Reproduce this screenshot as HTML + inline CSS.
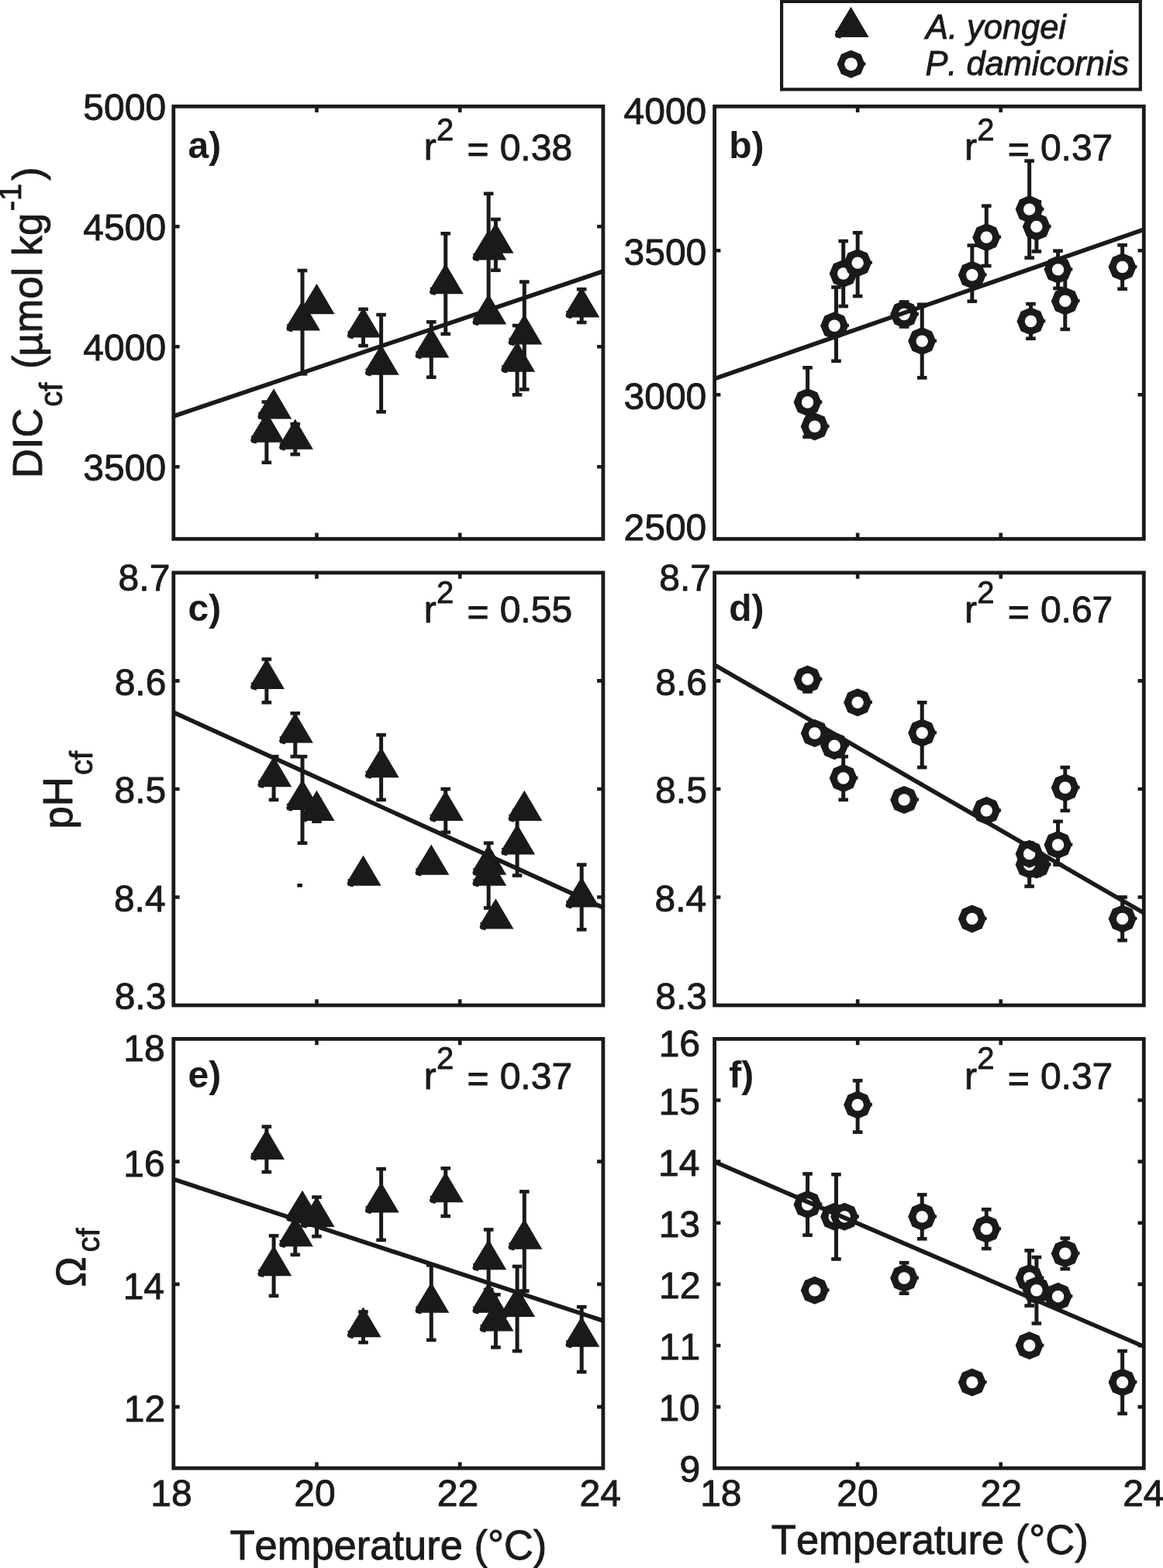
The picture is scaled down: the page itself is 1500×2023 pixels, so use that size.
<!DOCTYPE html>
<html lang="en"><head><meta charset="utf-8"><title>Figure</title><style>html,body{margin:0;padding:0;background:#fff}svg{display:block}text{stroke:#1a1a1a;stroke-width:0.9px;stroke-linejoin:round}</style></head><body>
<svg width="1500" height="2023" viewBox="0 0 1500 2023" font-family="'Liberation Sans', sans-serif" fill="#1a1a1a" style="font-kerning:none">
<rect width="1500" height="2023" fill="#fff"/>
<path d="M1008.1 0V115.3H1470.8V0" fill="none" stroke="#1a1a1a" stroke-width="4.2"/>
<rect x="1006" y="0" width="466.9" height="4" fill="#1a1a1a"/>
<polygon points="1097.5,8.7 1120.6,47.9 1085,47.9 1083.9,49.7 1080,48.6 1077.7,47.9 1076.7,45.1 1077.9,41.8 1076.9,40 1078.9,39.4" fill="#1a1a1a"/>
<polygon points="1097.6,64.8 1110.33,70.07 1115.6,82.8 1110.33,95.53 1097.6,100.8 1084.87,95.53 1079.6,82.8 1084.87,70.07" fill="#1a1a1a"/>
<rect x="1113.8" y="80.4" width="2.6" height="4" fill="#1a1a1a"/>
<circle cx="1097.6" cy="82.8" r="8.4" fill="#fff"/>
<path d="M343.86 518.6V596.72" stroke="#1a1a1a" stroke-width="5" fill="none"/>
<rect x="337.56" y="516.3" width="12.6" height="4.6" fill="#1a1a1a"/>
<rect x="337.56" y="594.42" width="12.6" height="4.6" fill="#1a1a1a"/>
<path d="M353.09 521.08V533.48" stroke="#1a1a1a" stroke-width="5" fill="none"/>
<rect x="346.79" y="518.78" width="12.6" height="4.6" fill="#1a1a1a"/>
<rect x="346.79" y="531.18" width="12.6" height="4.6" fill="#1a1a1a"/>
<path d="M380.79 547.12V586.18" stroke="#1a1a1a" stroke-width="5" fill="none"/>
<rect x="374.49" y="544.82" width="12.6" height="4.6" fill="#1a1a1a"/>
<rect x="374.49" y="583.88" width="12.6" height="4.6" fill="#1a1a1a"/>
<path d="M390.03 349.03V482.33" stroke="#1a1a1a" stroke-width="5" fill="none"/>
<rect x="383.73" y="346.73" width="12.6" height="4.6" fill="#1a1a1a"/>
<rect x="383.73" y="480.03" width="12.6" height="4.6" fill="#1a1a1a"/>
<path d="M408.5 387.47V396.77" stroke="#1a1a1a" stroke-width="5" fill="none"/>
<rect x="402.2" y="385.17" width="12.6" height="4.6" fill="#1a1a1a"/>
<rect x="402.2" y="394.47" width="12.6" height="4.6" fill="#1a1a1a"/>
<path d="M468.53 398.94V446.06" stroke="#1a1a1a" stroke-width="5" fill="none"/>
<rect x="462.23" y="396.64" width="12.6" height="4.6" fill="#1a1a1a"/>
<rect x="462.23" y="443.76" width="12.6" height="4.6" fill="#1a1a1a"/>
<path d="M491.61 406.07V531.31" stroke="#1a1a1a" stroke-width="5" fill="none"/>
<rect x="485.31" y="403.77" width="12.6" height="4.6" fill="#1a1a1a"/>
<rect x="485.31" y="529.01" width="12.6" height="4.6" fill="#1a1a1a"/>
<path d="M556.26 415.37V486.67" stroke="#1a1a1a" stroke-width="5" fill="none"/>
<rect x="549.96" y="413.07" width="12.6" height="4.6" fill="#1a1a1a"/>
<rect x="549.96" y="484.37" width="12.6" height="4.6" fill="#1a1a1a"/>
<path d="M574.73 301.29V430.87" stroke="#1a1a1a" stroke-width="5" fill="none"/>
<rect x="568.43" y="298.99" width="12.6" height="4.6" fill="#1a1a1a"/>
<rect x="568.43" y="428.57" width="12.6" height="4.6" fill="#1a1a1a"/>
<path d="M630.14 249.83V394.91" stroke="#1a1a1a" stroke-width="5" fill="none"/>
<rect x="623.84" y="247.53" width="12.6" height="4.6" fill="#1a1a1a"/>
<rect x="623.84" y="392.61" width="12.6" height="4.6" fill="#1a1a1a"/>
<path d="M639.38 283V348.72" stroke="#1a1a1a" stroke-width="5" fill="none"/>
<rect x="633.08" y="280.7" width="12.6" height="4.6" fill="#1a1a1a"/>
<rect x="633.08" y="346.42" width="12.6" height="4.6" fill="#1a1a1a"/>
<path d="M630.14 399.25V411.65" stroke="#1a1a1a" stroke-width="5" fill="none"/>
<rect x="623.84" y="396.95" width="12.6" height="4.6" fill="#1a1a1a"/>
<rect x="623.84" y="409.35" width="12.6" height="4.6" fill="#1a1a1a"/>
<path d="M667.08 420.02V509.3" stroke="#1a1a1a" stroke-width="5" fill="none"/>
<rect x="660.78" y="417.72" width="12.6" height="4.6" fill="#1a1a1a"/>
<rect x="660.78" y="507" width="12.6" height="4.6" fill="#1a1a1a"/>
<path d="M676.31 363.6V502.48" stroke="#1a1a1a" stroke-width="5" fill="none"/>
<rect x="670.01" y="361.3" width="12.6" height="4.6" fill="#1a1a1a"/>
<rect x="670.01" y="500.18" width="12.6" height="4.6" fill="#1a1a1a"/>
<path d="M750.19 373.21V415.99" stroke="#1a1a1a" stroke-width="5" fill="none"/>
<rect x="743.89" y="370.91" width="12.6" height="4.6" fill="#1a1a1a"/>
<rect x="743.89" y="413.69" width="12.6" height="4.6" fill="#1a1a1a"/>
<polygon points="343.86,531.56 366.96,570.76 331.36,570.76 330.26,572.56 326.36,571.46 324.06,570.76 323.06,567.96 324.26,564.66 323.26,562.86 325.26,562.26" fill="#1a1a1a"/>
<polygon points="353.09,501.18 376.19,540.38 340.59,540.38 339.49,542.18 335.59,541.08 333.29,540.38 332.29,537.58 333.49,534.28 332.49,532.48 334.49,531.88" fill="#1a1a1a"/>
<polygon points="380.79,540.55 403.89,579.75 368.29,579.75 367.19,581.55 363.29,580.45 360.99,579.75 359.99,576.95 361.19,573.65 360.19,571.85 362.19,571.25" fill="#1a1a1a"/>
<polygon points="390.03,387.38 413.13,426.58 377.53,426.58 376.43,428.38 372.53,427.28 370.23,426.58 369.23,423.78 370.43,420.48 369.43,418.68 371.43,418.08" fill="#1a1a1a"/>
<polygon points="408.5,366.02 431.6,405.22 396,405.22 394.9,407.02 391,405.92 388.7,405.22 387.7,402.42 388.9,399.12 387.9,397.32 389.9,396.72" fill="#1a1a1a"/>
<polygon points="468.53,396.4 491.63,435.6 456.03,435.6 454.93,437.4 451.03,436.3 448.73,435.6 447.73,432.8 448.93,429.5 447.93,427.7 449.93,427.1" fill="#1a1a1a"/>
<polygon points="491.61,444.59 514.71,483.79 479.11,483.79 478.01,485.59 474.11,484.49 471.81,483.79 470.81,480.99 472.01,477.69 471.01,475.89 473.01,475.29" fill="#1a1a1a"/>
<polygon points="556.26,422.42 579.36,461.62 543.76,461.62 542.66,463.42 538.76,462.32 536.46,461.62 535.46,458.82 536.66,455.52 535.66,453.72 537.66,453.12" fill="#1a1a1a"/>
<polygon points="574.73,339.98 597.83,379.18 562.23,379.18 561.13,380.98 557.23,379.88 554.93,379.18 553.93,376.38 555.13,373.08 554.13,371.28 556.13,370.68" fill="#1a1a1a"/>
<polygon points="630.14,296.27 653.24,335.47 617.64,335.47 616.54,337.27 612.64,336.17 610.34,335.47 609.34,332.67 610.54,329.37 609.54,327.57 611.54,326.97" fill="#1a1a1a"/>
<polygon points="639.38,287.46 662.48,326.66 626.88,326.66 625.77,328.46 621.88,327.36 619.58,326.66 618.58,323.86 619.77,320.56 618.77,318.76 620.77,318.16" fill="#1a1a1a"/>
<polygon points="630.14,379.35 653.24,418.55 617.64,418.55 616.54,420.35 612.64,419.25 610.34,418.55 609.34,415.75 610.54,412.45 609.54,410.65 611.54,410.05" fill="#1a1a1a"/>
<polygon points="667.08,440.56 690.18,479.76 654.58,479.76 653.48,481.56 649.58,480.46 647.28,479.76 646.28,476.96 647.48,473.66 646.48,471.86 648.48,471.26" fill="#1a1a1a"/>
<polygon points="676.31,405.24 699.41,444.44 663.81,444.44 662.71,446.24 658.81,445.14 656.51,444.44 655.51,441.64 656.71,438.34 655.71,436.54 657.71,435.94" fill="#1a1a1a"/>
<polygon points="750.19,370.3 773.29,409.5 737.69,409.5 736.59,411.3 732.69,410.2 730.39,409.5 729.39,406.7 730.59,403.4 729.59,401.6 731.59,401" fill="#1a1a1a"/>
<path d="M223.8 537L777.9 350" stroke="#1a1a1a" stroke-width="5.6" fill="none"/>
<rect x="223.8" y="137.3" width="554.1" height="558" fill="none" stroke="#1a1a1a" stroke-width="4.8"/>
<path d="M408.5 137.3v7.8M408.5 695.3v-7.8M593.2 137.3v7.8M593.2 695.3v-7.8M223.8 602.3h7.8M777.9 602.3h-7.8M223.8 447.3h7.8M777.9 447.3h-7.8M223.8 292.3h7.8M777.9 292.3h-7.8" stroke="#1a1a1a" stroke-width="4.6" fill="none"/>
<path d="M1041.57 474.33V563.61" stroke="#1a1a1a" stroke-width="5" fill="none"/>
<rect x="1035.27" y="472.03" width="12.6" height="4.6" fill="#1a1a1a"/>
<rect x="1035.27" y="561.31" width="12.6" height="4.6" fill="#1a1a1a"/>
<path d="M1050.8 540.92V559.52" stroke="#1a1a1a" stroke-width="5" fill="none"/>
<rect x="1044.5" y="538.62" width="12.6" height="4.6" fill="#1a1a1a"/>
<rect x="1044.5" y="557.22" width="12.6" height="4.6" fill="#1a1a1a"/>
<path d="M1078.48 370.54V465.78" stroke="#1a1a1a" stroke-width="5" fill="none"/>
<rect x="1072.18" y="368.24" width="12.6" height="4.6" fill="#1a1a1a"/>
<rect x="1072.18" y="463.48" width="12.6" height="4.6" fill="#1a1a1a"/>
<path d="M1087.71 311.02V395.1" stroke="#1a1a1a" stroke-width="5" fill="none"/>
<rect x="1081.41" y="308.72" width="12.6" height="4.6" fill="#1a1a1a"/>
<rect x="1081.41" y="392.8" width="12.6" height="4.6" fill="#1a1a1a"/>
<path d="M1106.17 300.24V382.08" stroke="#1a1a1a" stroke-width="5" fill="none"/>
<rect x="1099.87" y="297.94" width="12.6" height="4.6" fill="#1a1a1a"/>
<rect x="1099.87" y="379.78" width="12.6" height="4.6" fill="#1a1a1a"/>
<path d="M1166.15 389.52V421.51" stroke="#1a1a1a" stroke-width="5" fill="none"/>
<rect x="1159.85" y="387.22" width="12.6" height="4.6" fill="#1a1a1a"/>
<rect x="1159.85" y="419.21" width="12.6" height="4.6" fill="#1a1a1a"/>
<path d="M1189.22 392.86V487.35" stroke="#1a1a1a" stroke-width="5" fill="none"/>
<rect x="1182.92" y="390.56" width="12.6" height="4.6" fill="#1a1a1a"/>
<rect x="1182.92" y="485.05" width="12.6" height="4.6" fill="#1a1a1a"/>
<path d="M1253.82 316.6V388.77" stroke="#1a1a1a" stroke-width="5" fill="none"/>
<rect x="1247.52" y="314.3" width="12.6" height="4.6" fill="#1a1a1a"/>
<rect x="1247.52" y="386.47" width="12.6" height="4.6" fill="#1a1a1a"/>
<path d="M1272.28 265.64V343.02" stroke="#1a1a1a" stroke-width="5" fill="none"/>
<rect x="1265.98" y="263.34" width="12.6" height="4.6" fill="#1a1a1a"/>
<rect x="1265.98" y="340.72" width="12.6" height="4.6" fill="#1a1a1a"/>
<path d="M1327.65 207.61V332.6" stroke="#1a1a1a" stroke-width="5" fill="none"/>
<rect x="1321.35" y="205.31" width="12.6" height="4.6" fill="#1a1a1a"/>
<rect x="1321.35" y="330.3" width="12.6" height="4.6" fill="#1a1a1a"/>
<path d="M1336.88 260.43V324.42" stroke="#1a1a1a" stroke-width="5" fill="none"/>
<rect x="1330.58" y="258.13" width="12.6" height="4.6" fill="#1a1a1a"/>
<rect x="1330.58" y="322.12" width="12.6" height="4.6" fill="#1a1a1a"/>
<path d="M1329.49 392.12V436.76" stroke="#1a1a1a" stroke-width="5" fill="none"/>
<rect x="1323.19" y="389.82" width="12.6" height="4.6" fill="#1a1a1a"/>
<rect x="1323.19" y="434.46" width="12.6" height="4.6" fill="#1a1a1a"/>
<path d="M1364.56 323.67V372.03" stroke="#1a1a1a" stroke-width="5" fill="none"/>
<rect x="1358.26" y="321.37" width="12.6" height="4.6" fill="#1a1a1a"/>
<rect x="1358.26" y="369.73" width="12.6" height="4.6" fill="#1a1a1a"/>
<path d="M1373.79 351.94V424.86" stroke="#1a1a1a" stroke-width="5" fill="none"/>
<rect x="1367.49" y="349.64" width="12.6" height="4.6" fill="#1a1a1a"/>
<rect x="1367.49" y="422.56" width="12.6" height="4.6" fill="#1a1a1a"/>
<path d="M1447.61 316.23V372.78" stroke="#1a1a1a" stroke-width="5" fill="none"/>
<rect x="1441.31" y="313.93" width="12.6" height="4.6" fill="#1a1a1a"/>
<rect x="1441.31" y="370.48" width="12.6" height="4.6" fill="#1a1a1a"/>
<polygon points="1041.57,500.97 1054.3,506.24 1059.57,518.97 1054.3,531.7 1041.57,536.97 1028.84,531.7 1023.57,518.97 1028.84,506.24" fill="#1a1a1a"/>
<rect x="1057.77" y="516.57" width="2.6" height="4" fill="#1a1a1a"/>
<circle cx="1041.57" cy="518.97" r="7.7" fill="#fff"/>
<polygon points="1050.8,532.22 1063.52,537.49 1068.8,550.22 1063.52,562.95 1050.8,568.22 1038.07,562.95 1032.8,550.22 1038.07,537.49" fill="#1a1a1a"/>
<rect x="1067" y="547.82" width="2.6" height="4" fill="#1a1a1a"/>
<circle cx="1050.8" cy="550.22" r="7.7" fill="#fff"/>
<polygon points="1076.18,402.26 1088.91,407.53 1094.18,420.26 1088.91,432.99 1076.18,438.26 1063.45,432.99 1058.18,420.26 1063.45,407.53" fill="#1a1a1a"/>
<rect x="1092.38" y="417.86" width="2.6" height="4" fill="#1a1a1a"/>
<circle cx="1076.18" cy="420.26" r="7.7" fill="#fff"/>
<polygon points="1087.71,335.06 1100.44,340.33 1105.71,353.06 1100.44,365.79 1087.71,371.06 1074.98,365.79 1069.71,353.06 1074.98,340.33" fill="#1a1a1a"/>
<rect x="1103.91" y="350.66" width="2.6" height="4" fill="#1a1a1a"/>
<circle cx="1087.71" cy="353.06" r="7.7" fill="#fff"/>
<polygon points="1106.17,321.16 1118.89,326.43 1124.17,339.16 1118.89,351.88 1106.17,357.16 1093.44,351.88 1088.17,339.16 1093.44,326.43" fill="#1a1a1a"/>
<rect x="1122.37" y="336.76" width="2.6" height="4" fill="#1a1a1a"/>
<circle cx="1106.17" cy="339.16" r="7.7" fill="#fff"/>
<polygon points="1166.15,387.51 1178.88,392.78 1184.15,405.51 1178.88,418.24 1166.15,423.51 1153.42,418.24 1148.15,405.51 1153.42,392.78" fill="#1a1a1a"/>
<rect x="1182.35" y="403.11" width="2.6" height="4" fill="#1a1a1a"/>
<circle cx="1166.15" cy="405.51" r="7.7" fill="#fff"/>
<polygon points="1189.22,422.11 1201.95,427.38 1207.22,440.11 1201.95,452.84 1189.22,458.11 1176.49,452.84 1171.22,440.11 1176.49,427.38" fill="#1a1a1a"/>
<rect x="1205.42" y="437.71" width="2.6" height="4" fill="#1a1a1a"/>
<circle cx="1189.22" cy="440.11" r="7.7" fill="#fff"/>
<polygon points="1253.82,336.69 1266.55,341.96 1271.82,354.69 1266.55,367.42 1253.82,372.69 1241.09,367.42 1235.82,354.69 1241.09,341.96" fill="#1a1a1a"/>
<rect x="1270.02" y="352.29" width="2.6" height="4" fill="#1a1a1a"/>
<circle cx="1253.82" cy="354.69" r="7.7" fill="#fff"/>
<polygon points="1272.28,288.13 1285,293.4 1290.28,306.13 1285,318.86 1272.28,324.13 1259.55,318.86 1254.28,306.13 1259.55,293.4" fill="#1a1a1a"/>
<rect x="1288.48" y="303.73" width="2.6" height="4" fill="#1a1a1a"/>
<circle cx="1272.28" cy="306.13" r="7.7" fill="#fff"/>
<polygon points="1327.65,252.1 1340.37,257.38 1345.65,270.1 1340.37,282.83 1327.65,288.1 1314.92,282.83 1309.65,270.1 1314.92,257.38" fill="#1a1a1a"/>
<rect x="1343.85" y="267.7" width="2.6" height="4" fill="#1a1a1a"/>
<circle cx="1327.65" cy="270.1" r="7.7" fill="#fff"/>
<polygon points="1336.88,274.42 1349.6,279.7 1354.88,292.42 1349.6,305.15 1336.88,310.42 1324.15,305.15 1318.88,292.42 1324.15,279.7" fill="#1a1a1a"/>
<rect x="1353.08" y="290.02" width="2.6" height="4" fill="#1a1a1a"/>
<circle cx="1336.88" cy="292.42" r="7.7" fill="#fff"/>
<polygon points="1329.49,396.44 1342.22,401.71 1347.49,414.44 1342.22,427.17 1329.49,432.44 1316.76,427.17 1311.49,414.44 1316.76,401.71" fill="#1a1a1a"/>
<rect x="1345.69" y="412.04" width="2.6" height="4" fill="#1a1a1a"/>
<circle cx="1329.49" cy="414.44" r="7.7" fill="#fff"/>
<polygon points="1364.56,329.85 1377.29,335.12 1382.56,347.85 1377.29,360.58 1364.56,365.85 1351.83,360.58 1346.56,347.85 1351.83,335.12" fill="#1a1a1a"/>
<rect x="1380.76" y="345.45" width="2.6" height="4" fill="#1a1a1a"/>
<circle cx="1364.56" cy="347.85" r="7.7" fill="#fff"/>
<polygon points="1373.79,370.4 1386.52,375.67 1391.79,388.4 1386.52,401.13 1373.79,406.4 1361.06,401.13 1355.79,388.4 1361.06,375.67" fill="#1a1a1a"/>
<rect x="1389.99" y="386" width="2.6" height="4" fill="#1a1a1a"/>
<circle cx="1373.79" cy="388.4" r="7.7" fill="#fff"/>
<polygon points="1447.61,326.5 1460.34,331.78 1465.61,344.5 1460.34,357.23 1447.61,362.5 1434.89,357.23 1429.61,344.5 1434.89,331.78" fill="#1a1a1a"/>
<rect x="1463.81" y="342.1" width="2.6" height="4" fill="#1a1a1a"/>
<circle cx="1447.61" cy="344.5" r="7.7" fill="#fff"/>
<path d="M921.6 488.6L1475.3 296.2" stroke="#1a1a1a" stroke-width="5.6" fill="none"/>
<rect x="921.6" y="137.3" width="553.7" height="558" fill="none" stroke="#1a1a1a" stroke-width="4.8"/>
<path d="M1106.17 137.3v7.8M1106.17 695.3v-7.8M1290.73 137.3v7.8M1290.73 695.3v-7.8M921.6 509.3h7.8M1475.3 509.3h-7.8M921.6 323.3h7.8M1475.3 323.3h-7.8" stroke="#1a1a1a" stroke-width="4.6" fill="none"/>
<path d="M343.86 850.52V906.33" stroke="#1a1a1a" stroke-width="5" fill="none"/>
<rect x="337.56" y="848.22" width="12.6" height="4.6" fill="#1a1a1a"/>
<rect x="337.56" y="904.03" width="12.6" height="4.6" fill="#1a1a1a"/>
<path d="M353.09 976.09V1031.9" stroke="#1a1a1a" stroke-width="5" fill="none"/>
<rect x="346.79" y="973.79" width="12.6" height="4.6" fill="#1a1a1a"/>
<rect x="346.79" y="1029.6" width="12.6" height="4.6" fill="#1a1a1a"/>
<path d="M380.79 920.28V976.09" stroke="#1a1a1a" stroke-width="5" fill="none"/>
<rect x="374.49" y="917.98" width="12.6" height="4.6" fill="#1a1a1a"/>
<rect x="374.49" y="973.79" width="12.6" height="4.6" fill="#1a1a1a"/>
<path d="M390.03 976.09V1087.71" stroke="#1a1a1a" stroke-width="5" fill="none"/>
<rect x="383.73" y="973.79" width="12.6" height="4.6" fill="#1a1a1a"/>
<rect x="383.73" y="1085.41" width="12.6" height="4.6" fill="#1a1a1a"/>
<path d="M408.5 1031.9V1059.81" stroke="#1a1a1a" stroke-width="5" fill="none"/>
<rect x="402.2" y="1029.6" width="12.6" height="4.6" fill="#1a1a1a"/>
<rect x="402.2" y="1057.51" width="12.6" height="4.6" fill="#1a1a1a"/>
<path d="M491.61 948.19V1031.9" stroke="#1a1a1a" stroke-width="5" fill="none"/>
<rect x="485.31" y="945.89" width="12.6" height="4.6" fill="#1a1a1a"/>
<rect x="485.31" y="1029.6" width="12.6" height="4.6" fill="#1a1a1a"/>
<path d="M574.73 1017.95V1073.76" stroke="#1a1a1a" stroke-width="5" fill="none"/>
<rect x="568.43" y="1015.65" width="12.6" height="4.6" fill="#1a1a1a"/>
<rect x="568.43" y="1071.46" width="12.6" height="4.6" fill="#1a1a1a"/>
<path d="M630.14 1087.71V1171.43" stroke="#1a1a1a" stroke-width="5" fill="none"/>
<rect x="623.84" y="1085.41" width="12.6" height="4.6" fill="#1a1a1a"/>
<rect x="623.84" y="1169.13" width="12.6" height="4.6" fill="#1a1a1a"/>
<path d="M630.14 1101.67V1129.57" stroke="#1a1a1a" stroke-width="5" fill="none"/>
<rect x="623.84" y="1099.37" width="12.6" height="4.6" fill="#1a1a1a"/>
<rect x="623.84" y="1127.27" width="12.6" height="4.6" fill="#1a1a1a"/>
<path d="M639.38 1178.4V1192.36" stroke="#1a1a1a" stroke-width="5" fill="none"/>
<rect x="633.08" y="1176.1" width="12.6" height="4.6" fill="#1a1a1a"/>
<rect x="633.08" y="1190.06" width="12.6" height="4.6" fill="#1a1a1a"/>
<path d="M667.08 1045.86V1129.57" stroke="#1a1a1a" stroke-width="5" fill="none"/>
<rect x="660.78" y="1043.56" width="12.6" height="4.6" fill="#1a1a1a"/>
<rect x="660.78" y="1127.27" width="12.6" height="4.6" fill="#1a1a1a"/>
<path d="M676.31 1038.88V1052.83" stroke="#1a1a1a" stroke-width="5" fill="none"/>
<rect x="670.01" y="1036.58" width="12.6" height="4.6" fill="#1a1a1a"/>
<rect x="670.01" y="1050.53" width="12.6" height="4.6" fill="#1a1a1a"/>
<path d="M750.19 1115.62V1199.33" stroke="#1a1a1a" stroke-width="5" fill="none"/>
<rect x="743.89" y="1113.32" width="12.6" height="4.6" fill="#1a1a1a"/>
<rect x="743.89" y="1197.03" width="12.6" height="4.6" fill="#1a1a1a"/>
<polygon points="343.86,849.72 366.96,888.92 331.36,888.92 330.26,890.72 326.36,889.62 324.06,888.92 323.06,886.12 324.26,882.82 323.26,881.02 325.26,880.42" fill="#1a1a1a"/>
<polygon points="353.09,976 376.19,1015.2 340.59,1015.2 339.49,1017 335.59,1015.9 333.29,1015.2 332.29,1012.4 333.49,1009.1 332.49,1007.3 334.49,1006.7" fill="#1a1a1a"/>
<polygon points="380.79,919.39 403.89,958.59 368.29,958.59 367.19,960.39 363.29,959.29 360.99,958.59 359.99,955.79 361.19,952.49 360.19,950.69 362.19,950.09" fill="#1a1a1a"/>
<polygon points="390.03,1005.8 413.13,1045 377.53,1045 376.43,1046.8 372.53,1045.7 370.23,1045 369.23,1042.2 370.43,1038.9 369.43,1037.1 371.43,1036.5" fill="#1a1a1a"/>
<polygon points="408.5,1019.75 431.6,1058.95 396,1058.95 394.9,1060.75 391,1059.65 388.7,1058.95 387.7,1056.15 388.9,1052.85 387.9,1051.05 389.9,1050.45" fill="#1a1a1a"/>
<polygon points="468.53,1103.47 491.63,1142.67 456.03,1142.67 454.93,1144.47 451.03,1143.37 448.73,1142.67 447.73,1139.87 448.93,1136.57 447.93,1134.77 449.93,1134.17" fill="#1a1a1a"/>
<polygon points="491.61,963.95 514.71,1003.15 479.11,1003.15 478.01,1004.95 474.11,1003.85 471.81,1003.15 470.81,1000.35 472.01,997.05 471.01,995.25 473.01,994.65" fill="#1a1a1a"/>
<polygon points="556.26,1089.52 579.36,1128.72 543.76,1128.72 542.66,1130.52 538.76,1129.42 536.46,1128.72 535.46,1125.92 536.66,1122.62 535.66,1120.82 537.66,1120.22" fill="#1a1a1a"/>
<polygon points="574.73,1019.75 597.83,1058.95 562.23,1058.95 561.13,1060.75 557.23,1059.65 554.93,1058.95 553.93,1056.15 555.13,1052.85 554.13,1051.05 556.13,1050.45" fill="#1a1a1a"/>
<polygon points="630.14,1103.47 653.24,1142.67 617.64,1142.67 616.54,1144.47 612.64,1143.37 610.34,1142.67 609.34,1139.87 610.54,1136.57 609.54,1134.77 611.54,1134.17" fill="#1a1a1a"/>
<polygon points="630.14,1089.52 653.24,1128.72 617.64,1128.72 616.54,1130.52 612.64,1129.42 610.34,1128.72 609.34,1125.92 610.54,1122.62 609.54,1120.82 611.54,1120.22" fill="#1a1a1a"/>
<polygon points="639.38,1159.28 662.48,1198.48 626.88,1198.48 625.77,1200.28 621.88,1199.18 619.58,1198.48 618.58,1195.68 619.77,1192.38 618.77,1190.58 620.77,1189.98" fill="#1a1a1a"/>
<polygon points="667.08,1063.31 690.18,1102.51 654.58,1102.51 653.48,1104.31 649.58,1103.21 647.28,1102.51 646.28,1099.71 647.48,1096.41 646.48,1094.61 648.48,1094.01" fill="#1a1a1a"/>
<polygon points="676.31,1019.75 699.41,1058.95 663.81,1058.95 662.71,1060.75 658.81,1059.65 656.51,1058.95 655.51,1056.15 656.71,1052.85 655.71,1051.05 657.71,1050.45" fill="#1a1a1a"/>
<polygon points="750.19,1131.38 773.29,1170.57 737.69,1170.57 736.59,1172.38 732.69,1171.27 730.39,1170.57 729.39,1167.77 730.59,1164.47 729.59,1162.67 731.59,1162.07" fill="#1a1a1a"/>
<path d="M223.8 919.1L777.9 1171" stroke="#1a1a1a" stroke-width="5.6" fill="none"/>
<rect x="223.8" y="738.9" width="554.1" height="558.1" fill="none" stroke="#1a1a1a" stroke-width="4.8"/>
<path d="M408.5 738.9v7.8M408.5 1297v-7.8M593.2 738.9v7.8M593.2 1297v-7.8M223.8 1157.47h7.8M777.9 1157.47h-7.8M223.8 1017.95h7.8M777.9 1017.95h-7.8M223.8 878.42h7.8M777.9 878.42h-7.8" stroke="#1a1a1a" stroke-width="4.6" fill="none"/>
<path d="M1041.57 864.47V892.38" stroke="#1a1a1a" stroke-width="5" fill="none"/>
<rect x="1035.27" y="862.17" width="12.6" height="4.6" fill="#1a1a1a"/>
<rect x="1035.27" y="890.08" width="12.6" height="4.6" fill="#1a1a1a"/>
<path d="M1050.8 941.21V955.16" stroke="#1a1a1a" stroke-width="5" fill="none"/>
<rect x="1044.5" y="938.91" width="12.6" height="4.6" fill="#1a1a1a"/>
<rect x="1044.5" y="952.86" width="12.6" height="4.6" fill="#1a1a1a"/>
<path d="M1078.48 955.16V969.12" stroke="#1a1a1a" stroke-width="5" fill="none"/>
<rect x="1072.18" y="952.86" width="12.6" height="4.6" fill="#1a1a1a"/>
<rect x="1072.18" y="966.82" width="12.6" height="4.6" fill="#1a1a1a"/>
<path d="M1087.71 976.09V1031.9" stroke="#1a1a1a" stroke-width="5" fill="none"/>
<rect x="1081.41" y="973.79" width="12.6" height="4.6" fill="#1a1a1a"/>
<rect x="1081.41" y="1029.6" width="12.6" height="4.6" fill="#1a1a1a"/>
<path d="M1106.17 899.35V913.31" stroke="#1a1a1a" stroke-width="5" fill="none"/>
<rect x="1099.87" y="897.05" width="12.6" height="4.6" fill="#1a1a1a"/>
<rect x="1099.87" y="911.01" width="12.6" height="4.6" fill="#1a1a1a"/>
<path d="M1166.15 1024.93V1038.88" stroke="#1a1a1a" stroke-width="5" fill="none"/>
<rect x="1159.85" y="1022.63" width="12.6" height="4.6" fill="#1a1a1a"/>
<rect x="1159.85" y="1036.58" width="12.6" height="4.6" fill="#1a1a1a"/>
<path d="M1189.22 906.33V990.04" stroke="#1a1a1a" stroke-width="5" fill="none"/>
<rect x="1182.92" y="904.03" width="12.6" height="4.6" fill="#1a1a1a"/>
<rect x="1182.92" y="987.74" width="12.6" height="4.6" fill="#1a1a1a"/>
<path d="M1253.82 1178.4V1192.36" stroke="#1a1a1a" stroke-width="5" fill="none"/>
<rect x="1247.52" y="1176.1" width="12.6" height="4.6" fill="#1a1a1a"/>
<rect x="1247.52" y="1190.06" width="12.6" height="4.6" fill="#1a1a1a"/>
<path d="M1272.28 1038.88V1052.83" stroke="#1a1a1a" stroke-width="5" fill="none"/>
<rect x="1265.98" y="1036.58" width="12.6" height="4.6" fill="#1a1a1a"/>
<rect x="1265.98" y="1050.53" width="12.6" height="4.6" fill="#1a1a1a"/>
<path d="M1336.88 1101.67V1129.57" stroke="#1a1a1a" stroke-width="5" fill="none"/>
<rect x="1330.58" y="1099.37" width="12.6" height="4.6" fill="#1a1a1a"/>
<rect x="1330.58" y="1127.27" width="12.6" height="4.6" fill="#1a1a1a"/>
<path d="M1327.65 1087.71V1143.52" stroke="#1a1a1a" stroke-width="5" fill="none"/>
<rect x="1321.35" y="1085.41" width="12.6" height="4.6" fill="#1a1a1a"/>
<rect x="1321.35" y="1141.22" width="12.6" height="4.6" fill="#1a1a1a"/>
<path d="M1327.65 1087.71V1115.62" stroke="#1a1a1a" stroke-width="5" fill="none"/>
<rect x="1321.35" y="1085.41" width="12.6" height="4.6" fill="#1a1a1a"/>
<rect x="1321.35" y="1113.32" width="12.6" height="4.6" fill="#1a1a1a"/>
<path d="M1364.56 1059.81V1115.62" stroke="#1a1a1a" stroke-width="5" fill="none"/>
<rect x="1358.26" y="1057.51" width="12.6" height="4.6" fill="#1a1a1a"/>
<rect x="1358.26" y="1113.32" width="12.6" height="4.6" fill="#1a1a1a"/>
<path d="M1373.79 990.04V1045.86" stroke="#1a1a1a" stroke-width="5" fill="none"/>
<rect x="1367.49" y="987.75" width="12.6" height="4.6" fill="#1a1a1a"/>
<rect x="1367.49" y="1043.56" width="12.6" height="4.6" fill="#1a1a1a"/>
<path d="M1447.61 1157.47V1213.28" stroke="#1a1a1a" stroke-width="5" fill="none"/>
<rect x="1441.31" y="1155.17" width="12.6" height="4.6" fill="#1a1a1a"/>
<rect x="1441.31" y="1210.98" width="12.6" height="4.6" fill="#1a1a1a"/>
<polygon points="1041.57,858.42 1054.3,863.7 1059.57,876.42 1054.3,889.15 1041.57,894.42 1028.84,889.15 1023.57,876.42 1028.84,863.7" fill="#1a1a1a"/>
<rect x="1057.77" y="874.02" width="2.6" height="4" fill="#1a1a1a"/>
<circle cx="1041.57" cy="876.42" r="7.7" fill="#fff"/>
<polygon points="1050.8,927.99 1063.52,933.26 1068.8,945.99 1063.52,958.72 1050.8,963.99 1038.07,958.72 1032.8,945.99 1038.07,933.26" fill="#1a1a1a"/>
<rect x="1067" y="943.59" width="2.6" height="4" fill="#1a1a1a"/>
<circle cx="1050.8" cy="945.99" r="7.7" fill="#fff"/>
<polygon points="1076.18,944.14 1088.91,949.41 1094.18,962.14 1088.91,974.87 1076.18,980.14 1063.45,974.87 1058.18,962.14 1063.45,949.41" fill="#1a1a1a"/>
<rect x="1092.38" y="959.74" width="2.6" height="4" fill="#1a1a1a"/>
<circle cx="1076.18" cy="962.14" r="7.7" fill="#fff"/>
<polygon points="1087.71,986 1100.44,991.27 1105.71,1004 1100.44,1016.73 1087.71,1022 1074.98,1016.73 1069.71,1004 1074.98,991.27" fill="#1a1a1a"/>
<rect x="1103.91" y="1001.6" width="2.6" height="4" fill="#1a1a1a"/>
<circle cx="1087.71" cy="1004" r="7.7" fill="#fff"/>
<polygon points="1106.17,888.33 1118.89,893.6 1124.17,906.33 1118.89,919.06 1106.17,924.33 1093.44,919.06 1088.17,906.33 1093.44,893.6" fill="#1a1a1a"/>
<rect x="1122.37" y="903.93" width="2.6" height="4" fill="#1a1a1a"/>
<circle cx="1106.17" cy="906.33" r="7.7" fill="#fff"/>
<polygon points="1166.15,1013.9 1178.88,1019.17 1184.15,1031.9 1178.88,1044.63 1166.15,1049.9 1153.42,1044.63 1148.15,1031.9 1153.42,1019.17" fill="#1a1a1a"/>
<rect x="1182.35" y="1029.5" width="2.6" height="4" fill="#1a1a1a"/>
<circle cx="1166.15" cy="1031.9" r="7.7" fill="#fff"/>
<polygon points="1189.22,927.59 1201.95,932.86 1207.22,945.59 1201.95,958.32 1189.22,963.59 1176.49,958.32 1171.22,945.59 1176.49,932.86" fill="#1a1a1a"/>
<rect x="1205.42" y="943.19" width="2.6" height="4" fill="#1a1a1a"/>
<circle cx="1189.22" cy="945.59" r="7.7" fill="#fff"/>
<polygon points="1253.82,1167.38 1266.55,1172.65 1271.82,1185.38 1266.55,1198.11 1253.82,1203.38 1241.09,1198.11 1235.82,1185.38 1241.09,1172.65" fill="#1a1a1a"/>
<rect x="1270.02" y="1182.98" width="2.6" height="4" fill="#1a1a1a"/>
<circle cx="1253.82" cy="1185.38" r="7.7" fill="#fff"/>
<polygon points="1272.28,1027.85 1285,1033.13 1290.28,1045.85 1285,1058.58 1272.28,1063.85 1259.55,1058.58 1254.28,1045.85 1259.55,1033.13" fill="#1a1a1a"/>
<rect x="1288.48" y="1043.45" width="2.6" height="4" fill="#1a1a1a"/>
<circle cx="1272.28" cy="1045.85" r="7.7" fill="#fff"/>
<polygon points="1336.88,1097.62 1349.6,1102.89 1354.88,1115.62 1349.6,1128.35 1336.88,1133.62 1324.15,1128.35 1318.88,1115.62 1324.15,1102.89" fill="#1a1a1a"/>
<rect x="1353.08" y="1113.22" width="2.6" height="4" fill="#1a1a1a"/>
<circle cx="1336.88" cy="1115.62" r="7.7" fill="#fff"/>
<polygon points="1327.65,1097.62 1340.37,1102.89 1345.65,1115.62 1340.37,1128.35 1327.65,1133.62 1314.92,1128.35 1309.65,1115.62 1314.92,1102.89" fill="#1a1a1a"/>
<rect x="1343.85" y="1113.22" width="2.6" height="4" fill="#1a1a1a"/>
<circle cx="1327.65" cy="1115.62" r="7.7" fill="#fff"/>
<polygon points="1327.65,1083.67 1340.37,1088.94 1345.65,1101.67 1340.37,1114.39 1327.65,1119.67 1314.92,1114.39 1309.65,1101.67 1314.92,1088.94" fill="#1a1a1a"/>
<rect x="1343.85" y="1099.27" width="2.6" height="4" fill="#1a1a1a"/>
<circle cx="1327.65" cy="1101.67" r="7.7" fill="#fff"/>
<polygon points="1364.56,1072.01 1377.29,1077.28 1382.56,1090.01 1377.29,1102.74 1364.56,1108.01 1351.83,1102.74 1346.56,1090.01 1351.83,1077.28" fill="#1a1a1a"/>
<rect x="1380.76" y="1087.61" width="2.6" height="4" fill="#1a1a1a"/>
<circle cx="1364.56" cy="1090.01" r="7.7" fill="#fff"/>
<polygon points="1373.79,998.25 1386.52,1003.52 1391.79,1016.25 1386.52,1028.98 1373.79,1034.25 1361.06,1028.98 1355.79,1016.25 1361.06,1003.52" fill="#1a1a1a"/>
<rect x="1389.99" y="1013.85" width="2.6" height="4" fill="#1a1a1a"/>
<circle cx="1373.79" cy="1016.25" r="7.7" fill="#fff"/>
<polygon points="1447.61,1167.38 1460.34,1172.65 1465.61,1185.38 1460.34,1198.11 1447.61,1203.38 1434.89,1198.11 1429.61,1185.38 1434.89,1172.65" fill="#1a1a1a"/>
<rect x="1463.81" y="1182.98" width="2.6" height="4" fill="#1a1a1a"/>
<circle cx="1447.61" cy="1185.38" r="7.7" fill="#fff"/>
<path d="M921.6 857.8L1475.3 1177.8" stroke="#1a1a1a" stroke-width="5.6" fill="none"/>
<rect x="921.6" y="738.9" width="553.7" height="558.1" fill="none" stroke="#1a1a1a" stroke-width="4.8"/>
<path d="M1106.17 738.9v7.8M1106.17 1297v-7.8M1290.73 738.9v7.8M1290.73 1297v-7.8M921.6 1157.47h7.8M1475.3 1157.47h-7.8M921.6 1017.95h7.8M1475.3 1017.95h-7.8M921.6 878.42h7.8M1475.3 878.42h-7.8" stroke="#1a1a1a" stroke-width="4.6" fill="none"/>
<path d="M343.86 1453.53V1512.08" stroke="#1a1a1a" stroke-width="5" fill="none"/>
<rect x="337.56" y="1451.23" width="12.6" height="4.6" fill="#1a1a1a"/>
<rect x="337.56" y="1509.78" width="12.6" height="4.6" fill="#1a1a1a"/>
<path d="M353.09 1594.36V1671.89" stroke="#1a1a1a" stroke-width="5" fill="none"/>
<rect x="346.79" y="1592.06" width="12.6" height="4.6" fill="#1a1a1a"/>
<rect x="346.79" y="1669.59" width="12.6" height="4.6" fill="#1a1a1a"/>
<path d="M380.79 1571.41V1618.88" stroke="#1a1a1a" stroke-width="5" fill="none"/>
<rect x="374.49" y="1569.11" width="12.6" height="4.6" fill="#1a1a1a"/>
<rect x="374.49" y="1616.58" width="12.6" height="4.6" fill="#1a1a1a"/>
<path d="M390.03 1554.01V1569.83" stroke="#1a1a1a" stroke-width="5" fill="none"/>
<rect x="383.73" y="1551.71" width="12.6" height="4.6" fill="#1a1a1a"/>
<rect x="383.73" y="1567.53" width="12.6" height="4.6" fill="#1a1a1a"/>
<path d="M408.5 1544.51V1595.15" stroke="#1a1a1a" stroke-width="5" fill="none"/>
<rect x="402.2" y="1542.21" width="12.6" height="4.6" fill="#1a1a1a"/>
<rect x="402.2" y="1592.85" width="12.6" height="4.6" fill="#1a1a1a"/>
<path d="M468.53 1692.46V1732.02" stroke="#1a1a1a" stroke-width="5" fill="none"/>
<rect x="462.23" y="1690.16" width="12.6" height="4.6" fill="#1a1a1a"/>
<rect x="462.23" y="1729.72" width="12.6" height="4.6" fill="#1a1a1a"/>
<path d="M491.61 1508.12V1599.89" stroke="#1a1a1a" stroke-width="5" fill="none"/>
<rect x="485.31" y="1505.82" width="12.6" height="4.6" fill="#1a1a1a"/>
<rect x="485.31" y="1597.59" width="12.6" height="4.6" fill="#1a1a1a"/>
<path d="M556.26 1632.33V1728.85" stroke="#1a1a1a" stroke-width="5" fill="none"/>
<rect x="549.96" y="1630.03" width="12.6" height="4.6" fill="#1a1a1a"/>
<rect x="549.96" y="1726.55" width="12.6" height="4.6" fill="#1a1a1a"/>
<path d="M574.73 1507.33V1569.04" stroke="#1a1a1a" stroke-width="5" fill="none"/>
<rect x="568.43" y="1505.03" width="12.6" height="4.6" fill="#1a1a1a"/>
<rect x="568.43" y="1566.74" width="12.6" height="4.6" fill="#1a1a1a"/>
<path d="M630.14 1586.45V1663.98" stroke="#1a1a1a" stroke-width="5" fill="none"/>
<rect x="623.84" y="1584.15" width="12.6" height="4.6" fill="#1a1a1a"/>
<rect x="623.84" y="1661.68" width="12.6" height="4.6" fill="#1a1a1a"/>
<path d="M630.14 1672.68V1688.5" stroke="#1a1a1a" stroke-width="5" fill="none"/>
<rect x="623.84" y="1670.38" width="12.6" height="4.6" fill="#1a1a1a"/>
<rect x="623.84" y="1686.2" width="12.6" height="4.6" fill="#1a1a1a"/>
<path d="M639.38 1670.31V1738.34" stroke="#1a1a1a" stroke-width="5" fill="none"/>
<rect x="633.08" y="1668.01" width="12.6" height="4.6" fill="#1a1a1a"/>
<rect x="633.08" y="1736.04" width="12.6" height="4.6" fill="#1a1a1a"/>
<path d="M667.08 1633.91V1743.09" stroke="#1a1a1a" stroke-width="5" fill="none"/>
<rect x="660.78" y="1631.61" width="12.6" height="4.6" fill="#1a1a1a"/>
<rect x="660.78" y="1740.79" width="12.6" height="4.6" fill="#1a1a1a"/>
<path d="M676.31 1537.39V1665.56" stroke="#1a1a1a" stroke-width="5" fill="none"/>
<rect x="670.01" y="1535.09" width="12.6" height="4.6" fill="#1a1a1a"/>
<rect x="670.01" y="1663.26" width="12.6" height="4.6" fill="#1a1a1a"/>
<path d="M750.19 1686.13V1769.99" stroke="#1a1a1a" stroke-width="5" fill="none"/>
<rect x="743.89" y="1683.83" width="12.6" height="4.6" fill="#1a1a1a"/>
<rect x="743.89" y="1767.69" width="12.6" height="4.6" fill="#1a1a1a"/>
<polygon points="343.86,1456.71 366.96,1495.91 331.36,1495.91 330.26,1497.71 326.36,1496.61 324.06,1495.91 323.06,1493.11 324.26,1489.81 323.26,1488.01 325.26,1487.41" fill="#1a1a1a"/>
<polygon points="353.09,1607.02 376.19,1646.22 340.59,1646.22 339.49,1648.02 335.59,1646.92 333.29,1646.22 332.29,1643.42 333.49,1640.12 332.49,1638.32 334.49,1637.72" fill="#1a1a1a"/>
<polygon points="380.79,1569.05 403.89,1608.25 368.29,1608.25 367.19,1610.05 363.29,1608.95 360.99,1608.25 359.99,1605.45 361.19,1602.15 360.19,1600.35 362.19,1599.75" fill="#1a1a1a"/>
<polygon points="390.03,1535.82 413.13,1575.02 377.53,1575.02 376.43,1576.82 372.53,1575.72 370.23,1575.02 369.23,1572.22 370.43,1568.92 369.43,1567.12 371.43,1566.52" fill="#1a1a1a"/>
<polygon points="408.5,1543.73 431.6,1582.93 396,1582.93 394.9,1584.73 391,1583.63 388.7,1582.93 387.7,1580.13 388.9,1576.83 387.9,1575.03 389.9,1574.43" fill="#1a1a1a"/>
<polygon points="468.53,1686.14 491.63,1725.34 456.03,1725.34 454.93,1727.14 451.03,1726.04 448.73,1725.34 447.73,1722.54 448.93,1719.24 447.93,1717.44 449.93,1716.84" fill="#1a1a1a"/>
<polygon points="491.61,1525.21 514.71,1564.41 479.11,1564.41 478.01,1566.21 474.11,1565.11 471.81,1564.41 470.81,1561.61 472.01,1558.31 471.01,1556.51 473.01,1555.91" fill="#1a1a1a"/>
<polygon points="556.26,1654.49 579.36,1693.69 543.76,1693.69 542.66,1695.49 538.76,1694.39 536.46,1693.69 535.46,1690.89 536.66,1687.59 535.66,1685.79 537.66,1685.19" fill="#1a1a1a"/>
<polygon points="574.73,1512.09 597.83,1551.29 562.23,1551.29 561.13,1553.09 557.23,1551.99 554.93,1551.29 553.93,1548.49 555.13,1545.19 554.13,1543.39 556.13,1542.79" fill="#1a1a1a"/>
<polygon points="630.14,1599.11 653.24,1638.31 617.64,1638.31 616.54,1640.11 612.64,1639.01 610.34,1638.31 609.34,1635.51 610.54,1632.21 609.54,1630.41 611.54,1629.81" fill="#1a1a1a"/>
<polygon points="630.14,1654.49 653.24,1693.69 617.64,1693.69 616.54,1695.49 612.64,1694.39 610.34,1693.69 609.34,1690.89 610.54,1687.59 609.54,1685.79 611.54,1685.19" fill="#1a1a1a"/>
<polygon points="639.38,1678.23 662.48,1717.43 626.88,1717.43 625.77,1719.23 621.88,1718.13 619.58,1717.43 618.58,1714.63 619.77,1711.33 618.77,1709.53 620.77,1708.93" fill="#1a1a1a"/>
<polygon points="667.08,1659.7 690.18,1698.9 654.58,1698.9 653.48,1700.7 649.58,1699.6 647.28,1698.9 646.28,1696.1 647.48,1692.8 646.48,1691 648.48,1690.4" fill="#1a1a1a"/>
<polygon points="676.31,1572.48 699.41,1611.68 663.81,1611.68 662.71,1613.48 658.81,1612.38 656.51,1611.68 655.51,1608.88 656.71,1605.58 655.71,1603.78 657.71,1603.18" fill="#1a1a1a"/>
<polygon points="750.19,1698.46 773.29,1737.66 737.69,1737.66 736.59,1739.46 732.69,1738.36 730.39,1737.66 729.39,1734.86 730.59,1731.56 729.59,1729.76 731.59,1729.16" fill="#1a1a1a"/>
<path d="M223.8 1521.4L777.9 1704" stroke="#1a1a1a" stroke-width="5.6" fill="none"/>
<rect x="223.8" y="1340.4" width="554.1" height="553.8" fill="none" stroke="#1a1a1a" stroke-width="4.8"/>
<path d="M408.5 1340.4v7.8M408.5 1894.2v-7.8M593.2 1340.4v7.8M593.2 1894.2v-7.8M223.8 1815.09h7.8M777.9 1815.09h-7.8M223.8 1656.86h7.8M777.9 1656.86h-7.8M223.8 1498.63h7.8M777.9 1498.63h-7.8" stroke="#1a1a1a" stroke-width="4.6" fill="none"/>
<path d="M1041.57 1514.45V1593.57" stroke="#1a1a1a" stroke-width="5" fill="none"/>
<rect x="1035.27" y="1512.15" width="12.6" height="4.6" fill="#1a1a1a"/>
<rect x="1035.27" y="1591.27" width="12.6" height="4.6" fill="#1a1a1a"/>
<path d="M1050.8 1656.86V1672.68" stroke="#1a1a1a" stroke-width="5" fill="none"/>
<rect x="1044.5" y="1654.56" width="12.6" height="4.6" fill="#1a1a1a"/>
<rect x="1044.5" y="1670.38" width="12.6" height="4.6" fill="#1a1a1a"/>
<path d="M1078.48 1515.24V1624.42" stroke="#1a1a1a" stroke-width="5" fill="none"/>
<rect x="1072.18" y="1512.94" width="12.6" height="4.6" fill="#1a1a1a"/>
<rect x="1072.18" y="1622.12" width="12.6" height="4.6" fill="#1a1a1a"/>
<path d="M1087.71 1561.92V1577.74" stroke="#1a1a1a" stroke-width="5" fill="none"/>
<rect x="1081.41" y="1559.62" width="12.6" height="4.6" fill="#1a1a1a"/>
<rect x="1081.41" y="1575.44" width="12.6" height="4.6" fill="#1a1a1a"/>
<path d="M1106.17 1394.2V1460.65" stroke="#1a1a1a" stroke-width="5" fill="none"/>
<rect x="1099.87" y="1391.9" width="12.6" height="4.6" fill="#1a1a1a"/>
<rect x="1099.87" y="1458.35" width="12.6" height="4.6" fill="#1a1a1a"/>
<path d="M1166.15 1629.17V1668.72" stroke="#1a1a1a" stroke-width="5" fill="none"/>
<rect x="1159.85" y="1626.87" width="12.6" height="4.6" fill="#1a1a1a"/>
<rect x="1159.85" y="1666.42" width="12.6" height="4.6" fill="#1a1a1a"/>
<path d="M1189.22 1541.35V1598.31" stroke="#1a1a1a" stroke-width="5" fill="none"/>
<rect x="1182.92" y="1539.05" width="12.6" height="4.6" fill="#1a1a1a"/>
<rect x="1182.92" y="1596.01" width="12.6" height="4.6" fill="#1a1a1a"/>
<path d="M1253.82 1775.53V1791.35" stroke="#1a1a1a" stroke-width="5" fill="none"/>
<rect x="1247.52" y="1773.23" width="12.6" height="4.6" fill="#1a1a1a"/>
<rect x="1247.52" y="1789.05" width="12.6" height="4.6" fill="#1a1a1a"/>
<path d="M1272.28 1560.34V1610.97" stroke="#1a1a1a" stroke-width="5" fill="none"/>
<rect x="1265.98" y="1558.04" width="12.6" height="4.6" fill="#1a1a1a"/>
<rect x="1265.98" y="1608.67" width="12.6" height="4.6" fill="#1a1a1a"/>
<path d="M1327.65 1613.34V1684.55" stroke="#1a1a1a" stroke-width="5" fill="none"/>
<rect x="1321.35" y="1611.04" width="12.6" height="4.6" fill="#1a1a1a"/>
<rect x="1321.35" y="1682.25" width="12.6" height="4.6" fill="#1a1a1a"/>
<path d="M1336.88 1622.05V1707.49" stroke="#1a1a1a" stroke-width="5" fill="none"/>
<rect x="1330.58" y="1619.75" width="12.6" height="4.6" fill="#1a1a1a"/>
<rect x="1330.58" y="1705.19" width="12.6" height="4.6" fill="#1a1a1a"/>
<path d="M1327.65 1728.06V1743.88" stroke="#1a1a1a" stroke-width="5" fill="none"/>
<rect x="1321.35" y="1725.76" width="12.6" height="4.6" fill="#1a1a1a"/>
<rect x="1321.35" y="1741.58" width="12.6" height="4.6" fill="#1a1a1a"/>
<path d="M1364.56 1664.77V1680.59" stroke="#1a1a1a" stroke-width="5" fill="none"/>
<rect x="1358.26" y="1662.47" width="12.6" height="4.6" fill="#1a1a1a"/>
<rect x="1358.26" y="1678.29" width="12.6" height="4.6" fill="#1a1a1a"/>
<path d="M1373.79 1597.52V1637.08" stroke="#1a1a1a" stroke-width="5" fill="none"/>
<rect x="1367.49" y="1595.22" width="12.6" height="4.6" fill="#1a1a1a"/>
<rect x="1367.49" y="1634.78" width="12.6" height="4.6" fill="#1a1a1a"/>
<path d="M1447.61 1743.09V1823.79" stroke="#1a1a1a" stroke-width="5" fill="none"/>
<rect x="1441.31" y="1740.79" width="12.6" height="4.6" fill="#1a1a1a"/>
<rect x="1441.31" y="1821.49" width="12.6" height="4.6" fill="#1a1a1a"/>
<polygon points="1041.57,1536.01 1054.3,1541.28 1059.57,1554.01 1054.3,1566.74 1041.57,1572.01 1028.84,1566.74 1023.57,1554.01 1028.84,1541.28" fill="#1a1a1a"/>
<rect x="1057.77" y="1551.61" width="2.6" height="4" fill="#1a1a1a"/>
<circle cx="1041.57" cy="1554.01" r="7.7" fill="#fff"/>
<polygon points="1050.8,1646.77 1063.52,1652.04 1068.8,1664.77 1063.52,1677.5 1050.8,1682.77 1038.07,1677.5 1032.8,1664.77 1038.07,1652.04" fill="#1a1a1a"/>
<rect x="1067" y="1662.37" width="2.6" height="4" fill="#1a1a1a"/>
<circle cx="1050.8" cy="1664.77" r="7.7" fill="#fff"/>
<polygon points="1076.18,1551.83 1088.91,1557.1 1094.18,1569.83 1088.91,1582.56 1076.18,1587.83 1063.45,1582.56 1058.18,1569.83 1063.45,1557.1" fill="#1a1a1a"/>
<rect x="1092.38" y="1567.43" width="2.6" height="4" fill="#1a1a1a"/>
<circle cx="1076.18" cy="1569.83" r="7.7" fill="#fff"/>
<polygon points="1089.21,1551.83 1101.94,1557.1 1107.21,1569.83 1101.94,1582.56 1089.21,1587.83 1076.48,1582.56 1071.21,1569.83 1076.48,1557.1" fill="#1a1a1a"/>
<rect x="1105.41" y="1567.43" width="2.6" height="4" fill="#1a1a1a"/>
<circle cx="1089.21" cy="1569.83" r="7.7" fill="#fff"/>
<polygon points="1106.17,1407.53 1118.89,1412.8 1124.17,1425.53 1118.89,1438.25 1106.17,1443.53 1093.44,1438.25 1088.17,1425.53 1093.44,1412.8" fill="#1a1a1a"/>
<rect x="1122.37" y="1423.13" width="2.6" height="4" fill="#1a1a1a"/>
<circle cx="1106.17" cy="1425.53" r="7.7" fill="#fff"/>
<polygon points="1166.15,1630.95 1178.88,1636.22 1184.15,1648.95 1178.88,1661.67 1166.15,1666.95 1153.42,1661.67 1148.15,1648.95 1153.42,1636.22" fill="#1a1a1a"/>
<rect x="1182.35" y="1646.55" width="2.6" height="4" fill="#1a1a1a"/>
<circle cx="1166.15" cy="1648.95" r="7.7" fill="#fff"/>
<polygon points="1189.22,1551.83 1201.95,1557.1 1207.22,1569.83 1201.95,1582.56 1189.22,1587.83 1176.49,1582.56 1171.22,1569.83 1176.49,1557.1" fill="#1a1a1a"/>
<rect x="1205.42" y="1567.43" width="2.6" height="4" fill="#1a1a1a"/>
<circle cx="1189.22" cy="1569.83" r="7.7" fill="#fff"/>
<polygon points="1253.82,1765.44 1266.55,1770.71 1271.82,1783.44 1266.55,1796.17 1253.82,1801.44 1241.09,1796.17 1235.82,1783.44 1241.09,1770.71" fill="#1a1a1a"/>
<rect x="1270.02" y="1781.04" width="2.6" height="4" fill="#1a1a1a"/>
<circle cx="1253.82" cy="1783.44" r="7.7" fill="#fff"/>
<polygon points="1272.28,1567.65 1285,1572.93 1290.28,1585.65 1285,1598.38 1272.28,1603.65 1259.55,1598.38 1254.28,1585.65 1259.55,1572.93" fill="#1a1a1a"/>
<rect x="1288.48" y="1583.25" width="2.6" height="4" fill="#1a1a1a"/>
<circle cx="1272.28" cy="1585.65" r="7.7" fill="#fff"/>
<polygon points="1327.65,1630.95 1340.37,1636.22 1345.65,1648.95 1340.37,1661.67 1327.65,1666.95 1314.92,1661.67 1309.65,1648.95 1314.92,1636.22" fill="#1a1a1a"/>
<rect x="1343.85" y="1646.55" width="2.6" height="4" fill="#1a1a1a"/>
<circle cx="1327.65" cy="1648.95" r="7.7" fill="#fff"/>
<polygon points="1336.88,1646.77 1349.6,1652.04 1354.88,1664.77 1349.6,1677.5 1336.88,1682.77 1324.15,1677.5 1318.88,1664.77 1324.15,1652.04" fill="#1a1a1a"/>
<rect x="1353.08" y="1662.37" width="2.6" height="4" fill="#1a1a1a"/>
<circle cx="1336.88" cy="1664.77" r="7.7" fill="#fff"/>
<polygon points="1327.65,1717.97 1340.37,1723.24 1345.65,1735.97 1340.37,1748.7 1327.65,1753.97 1314.92,1748.7 1309.65,1735.97 1314.92,1723.24" fill="#1a1a1a"/>
<rect x="1343.85" y="1733.57" width="2.6" height="4" fill="#1a1a1a"/>
<circle cx="1327.65" cy="1735.97" r="7.7" fill="#fff"/>
<polygon points="1364.56,1654.68 1377.29,1659.95 1382.56,1672.68 1377.29,1685.41 1364.56,1690.68 1351.83,1685.41 1346.56,1672.68 1351.83,1659.95" fill="#1a1a1a"/>
<rect x="1380.76" y="1670.28" width="2.6" height="4" fill="#1a1a1a"/>
<circle cx="1364.56" cy="1672.68" r="7.7" fill="#fff"/>
<polygon points="1373.79,1599.3 1386.52,1604.57 1391.79,1617.3 1386.52,1630.03 1373.79,1635.3 1361.06,1630.03 1355.79,1617.3 1361.06,1604.57" fill="#1a1a1a"/>
<rect x="1389.99" y="1614.9" width="2.6" height="4" fill="#1a1a1a"/>
<circle cx="1373.79" cy="1617.3" r="7.7" fill="#fff"/>
<polygon points="1447.61,1765.44 1460.34,1770.71 1465.61,1783.44 1460.34,1796.17 1447.61,1801.44 1434.89,1796.17 1429.61,1783.44 1434.89,1770.71" fill="#1a1a1a"/>
<rect x="1463.81" y="1781.04" width="2.6" height="4" fill="#1a1a1a"/>
<circle cx="1447.61" cy="1783.44" r="7.7" fill="#fff"/>
<path d="M921.6 1499L1475.3 1737.3" stroke="#1a1a1a" stroke-width="5.6" fill="none"/>
<rect x="921.6" y="1340.4" width="553.7" height="553.8" fill="none" stroke="#1a1a1a" stroke-width="4.8"/>
<path d="M1106.17 1340.4v7.8M1106.17 1894.2v-7.8M1290.73 1340.4v7.8M1290.73 1894.2v-7.8M921.6 1815.09h7.8M1475.3 1815.09h-7.8M921.6 1735.97h7.8M1475.3 1735.97h-7.8M921.6 1656.86h7.8M1475.3 1656.86h-7.8M921.6 1577.74h7.8M1475.3 1577.74h-7.8M921.6 1498.63h7.8M1475.3 1498.63h-7.8M921.6 1419.51h7.8M1475.3 1419.51h-7.8" stroke="#1a1a1a" stroke-width="4.6" fill="none"/>
<rect x="383.4" y="1140" width="6.4" height="4.6" fill="#0d0d0d"/>
<text transform="translate(107.34 155.2) scale(1 1.01)" font-size="48">5000</text>
<text transform="translate(107.34 310.3) scale(1 1.01)" font-size="48">4500</text>
<text transform="translate(107.34 465.2) scale(1 1.01)" font-size="48">4000</text>
<text transform="translate(107.34 620.3) scale(1 1.01)" font-size="48">3500</text>
<text transform="translate(804.54 159.9) scale(1 1.01)" font-size="48">4000</text>
<text transform="translate(804.54 341.6) scale(1 1.01)" font-size="48">3500</text>
<text transform="translate(804.54 527.7) scale(1 1.01)" font-size="48">3000</text>
<text transform="translate(804.54 696.8) scale(1 1.01)" font-size="48">2500</text>
<text transform="translate(152.6 761.8) scale(1 1.01)" font-size="48">8.7</text>
<text transform="translate(147.64 896.7) scale(1 1.01)" font-size="48">8.6</text>
<text transform="translate(147.52 1036.3) scale(1 1.01)" font-size="48">8.5</text>
<text transform="translate(146.92 1175.9) scale(1 1.01)" font-size="48">8.4</text>
<text transform="translate(147.64 1302.2) scale(1 1.01)" font-size="48">8.3</text>
<text transform="translate(850.2 761.8) scale(1 1.01)" font-size="48">8.7</text>
<text transform="translate(845.24 896.7) scale(1 1.01)" font-size="48">8.6</text>
<text transform="translate(845.12 1036.3) scale(1 1.01)" font-size="48">8.5</text>
<text transform="translate(844.52 1175.9) scale(1 1.01)" font-size="48">8.4</text>
<text transform="translate(845.24 1302.2) scale(1 1.01)" font-size="48">8.3</text>
<text transform="translate(159.36 1369) scale(1 1.01)" font-size="48">18</text>
<text transform="translate(159.36 1518.2) scale(1 1.01)" font-size="48">16</text>
<text transform="translate(158.64 1675.6) scale(1 1.01)" font-size="48">14</text>
<text transform="translate(159.72 1834.3) scale(1 1.01)" font-size="48">12</text>
<text transform="translate(849.66 1363.1) scale(1 1.01)" font-size="48">16</text>
<text transform="translate(849.54 1438.1) scale(1 1.01)" font-size="48">15</text>
<text transform="translate(848.94 1517) scale(1 1.01)" font-size="48">14</text>
<text transform="translate(849.66 1596) scale(1 1.01)" font-size="48">13</text>
<text transform="translate(850.02 1675.1) scale(1 1.01)" font-size="48">12</text>
<text transform="translate(849.9 1754.1) scale(1 1.01)" font-size="48">11</text>
<text transform="translate(849.42 1833.2) scale(1 1.01)" font-size="48">10</text>
<text transform="translate(876.42 1912.2) scale(1 1.01)" font-size="48">9</text>
<text transform="translate(194.26 1943.4) scale(1 1.01)" font-size="48">18</text>
<text transform="translate(379.32 1943.4) scale(1 1.01)" font-size="48">20</text>
<text transform="translate(563.82 1943.4) scale(1 1.01)" font-size="48">22</text>
<text transform="translate(747.54 1943.4) scale(1 1.01)" font-size="48">24</text>
<text transform="translate(903.16 1942.9) scale(1 1.01)" font-size="48">18</text>
<text transform="translate(1079.22 1942.9) scale(1 1.01)" font-size="48">20</text>
<text transform="translate(1264.62 1942.9) scale(1 1.01)" font-size="48">22</text>
<text transform="translate(1448.14 1942.9) scale(1 1.01)" font-size="48">24</text>
<text transform="translate(1194.06 50.2) scale(1 1.01)" font-size="43.4" font-style="italic">A. yongei</text>
<text transform="translate(1193.4 96.9) scale(1 1.01)" font-size="43.4" font-style="italic">P. damicornis</text>
<text transform="translate(296.42 2011.6) scale(1 1.01)" font-size="52.5">Temperature (°C)</text>
<text transform="translate(994.82 2004.8) scale(1 1.01)" font-size="52.5">Temperature (°C)</text>
<text transform="translate(242.5 204.4) scale(1 1.01)" font-size="48" font-weight="bold" style="stroke:none">a)</text>
<text transform="translate(546.76 206.4) scale(1 1.01)" font-size="48">r</text>
<text transform="translate(563.1 180.7) scale(1 1.01)" font-size="40">2</text>
<text transform="translate(602.5 209) scale(1 1.01)" font-size="48">=</text>
<text transform="translate(644.68 206.6) scale(1 1.01)" font-size="48">0.38</text>
<text transform="translate(940.3 204.4) scale(1 1.01)" font-size="48" font-weight="bold" style="stroke:none">b)</text>
<text transform="translate(1243.96 206.4) scale(1 1.01)" font-size="48">r</text>
<text transform="translate(1260.3 180.7) scale(1 1.01)" font-size="40">2</text>
<text transform="translate(1299.7 209) scale(1 1.01)" font-size="48">=</text>
<text transform="translate(1341.88 206.6) scale(1 1.01)" font-size="48">0.37</text>
<text transform="translate(242.5 801.4) scale(1 1.01)" font-size="48" font-weight="bold" style="stroke:none">c)</text>
<text transform="translate(546.76 803.2) scale(1 1.01)" font-size="48">r</text>
<text transform="translate(563.1 777.5) scale(1 1.01)" font-size="40">2</text>
<text transform="translate(602.5 805.8) scale(1 1.01)" font-size="48">=</text>
<text transform="translate(644.68 803.4) scale(1 1.01)" font-size="48">0.55</text>
<text transform="translate(940.3 801.4) scale(1 1.01)" font-size="48" font-weight="bold" style="stroke:none">d)</text>
<text transform="translate(1243.96 803.2) scale(1 1.01)" font-size="48">r</text>
<text transform="translate(1260.3 777.5) scale(1 1.01)" font-size="40">2</text>
<text transform="translate(1299.7 805.8) scale(1 1.01)" font-size="48">=</text>
<text transform="translate(1341.88 803.4) scale(1 1.01)" font-size="48">0.67</text>
<text transform="translate(242.5 1403.2) scale(1 1.01)" font-size="48" font-weight="bold" style="stroke:none">e)</text>
<text transform="translate(546.76 1404.9) scale(1 1.01)" font-size="48">r</text>
<text transform="translate(563.1 1379.2) scale(1 1.01)" font-size="40">2</text>
<text transform="translate(602.5 1407.5) scale(1 1.01)" font-size="48">=</text>
<text transform="translate(644.68 1405.1) scale(1 1.01)" font-size="48">0.37</text>
<text transform="translate(940.3 1403.2) scale(1 1.01)" font-size="48" font-weight="bold" style="stroke:none">f)</text>
<text transform="translate(1243.96 1404.9) scale(1 1.01)" font-size="48">r</text>
<text transform="translate(1260.3 1379.2) scale(1 1.01)" font-size="40">2</text>
<text transform="translate(1299.7 1407.5) scale(1 1.01)" font-size="48">=</text>
<text transform="translate(1341.88 1405.1) scale(1 1.01)" font-size="48">0.37</text>
<text transform="translate(54 617.1) rotate(-90) scale(1 1.01)" font-size="52.5">DIC</text>
<text transform="translate(79.8 524.8) rotate(-90) scale(1 1.01)" font-size="40">cf</text>
<text transform="translate(54 476) rotate(-90) scale(1 1.01)" font-size="52.5">(</text>
<text transform="translate(54 459.7) rotate(-90) scale(1 1.01)" font-size="52.5">µmol kg</text>
<text transform="translate(26.8 272.3) rotate(-90) scale(1 1.01)" font-size="40">-1</text>
<text transform="translate(54 233) rotate(-90) scale(1 1.01)" font-size="52.5">)</text>
<text transform="translate(92.6 1069.5) rotate(-90) scale(1 1.01)" font-size="52.5">pH</text>
<text transform="translate(119 1000) rotate(-90) scale(1 1.01)" font-size="40">cf</text>
<text transform="translate(110.4 1660.5) rotate(-90) scale(1 1.01)" font-size="52.5">Ω</text>
<text transform="translate(127.7 1615.5) rotate(-90) scale(1 1.01)" font-size="40">cf</text>
</svg>
</body></html>
